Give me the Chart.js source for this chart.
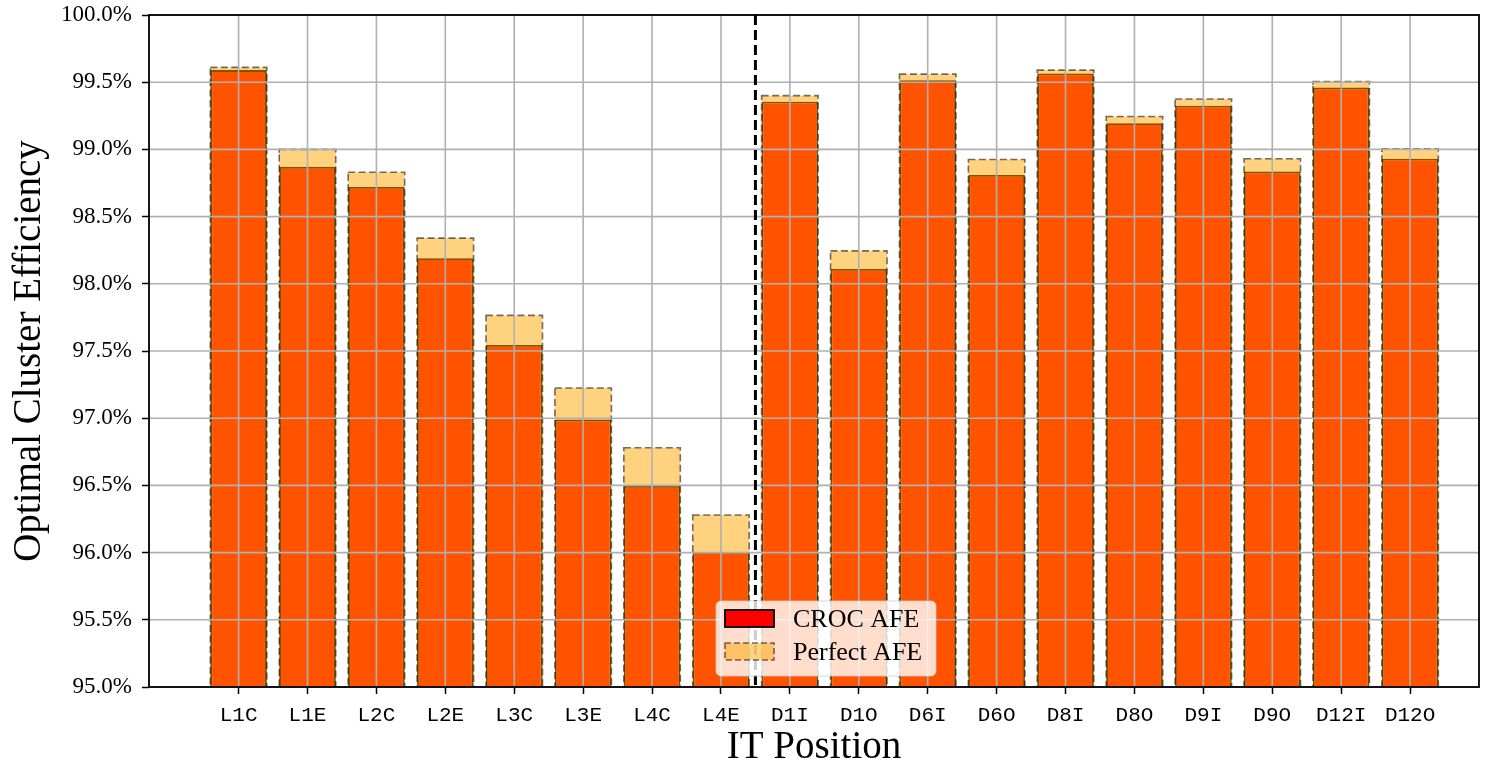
<!DOCTYPE html>
<html>
<head>
<meta charset="utf-8">
<script src="https://cdn.jsdelivr.net/npm/chart.js@4"></script>
<style>
  html, body { margin: 0; padding: 0; background: #ffffff; }
  #wrap { width: 1489px; height: 764px; }
</style>
</head>
<body>
<div id="wrap"><canvas id="afeChart" width="1489" height="764"></canvas></div>
<script>
// Posições IT e eficiências (em %)
const positions = ['L1C', 'L1E', 'L2C', 'L2E', 'L3C', 'L3E', 'L4C', 'L4E',
    'D1I', 'D1O', 'D6I', 'D6O', 'D8I', 'D8O', 'D9I', 'D9O', 'D12I', 'D12O'];
const crocAfe = [99.59, 98.87, 98.72, 98.19, 97.545, 96.99, 96.495, 96.005,
    99.355, 98.11, 99.515, 98.81, 99.565, 99.195, 99.325, 98.835, 99.46, 98.93];
const perfectAfe = [99.61, 99.00, 98.83, 98.34, 97.765, 97.225, 96.78, 96.28,
    99.40, 98.245, 99.56, 98.925, 99.59, 99.245, 99.375, 98.93, 99.505, 99.005];
const yTicks = [95.0, 95.5, 96.0, 96.5, 97.0, 97.5, 98.0, 98.5, 99.0, 99.5, 100.0];
const separatorAt = 7.5;

const colors = {
    croc: '#ff0000',
    perfect: 'rgba(255, 165, 0, 0.5)',
    perfectEdge: 'rgba(0, 0, 0, 0.55)',
    grid: '#b0b0b0'
};

const serif = "'Liberation Serif', 'DejaVu Serif', serif";
const mono = "'Liberation Mono', 'DejaVu Sans Mono', monospace";

// Contorno tracejado das barras "Perfect AFE"
const dashedOutline = {
    id: 'dashedOutline',
    afterDatasetDraw(chart, args) {
        if (args.index !== 1) return;
        const ctx = chart.ctx;
        ctx.save();
        ctx.beginPath();
        ctx.rect(chart.chartArea.left, chart.chartArea.top, chart.chartArea.width, chart.chartArea.height);
        ctx.clip();
        ctx.strokeStyle = colors.perfectEdge;
        ctx.lineWidth = 1.6;
        ctx.setLineDash([7, 3.5]);
        args.meta.data.forEach(bar => {
            const p = bar.getProps(['x', 'y', 'base', 'width'], true);
            ctx.strokeRect(p.x - p.width / 2, p.y, p.width, p.base - p.y);
        });
        ctx.restore();
    }
};

// Grade por cima das barras, linha separadora, eixos e legenda
const overlay = {
    id: 'overlay',
    afterDatasetsDraw(chart) {
        const ctx = chart.ctx;
        const ca = chart.chartArea;
        const xs = chart.scales.x;
        const ys = chart.scales.y;
        ctx.save();

        // grade
        ctx.strokeStyle = colors.grid;
        ctx.lineWidth = 1.6;
        yTicks.forEach(v => {
            const y = ys.getPixelForValue(v);
            ctx.beginPath();
            ctx.moveTo(ca.left, y);
            ctx.lineTo(ca.right, y);
            ctx.stroke();
        });
        positions.forEach((_, i) => {
            const x = xs.getPixelForValue(i);
            ctx.beginPath();
            ctx.moveTo(x, ca.top);
            ctx.lineTo(x, ca.bottom);
            ctx.stroke();
        });

        // separador L / D
        const sx = xs.getPixelForValue(separatorAt);
        ctx.strokeStyle = '#000000';
        ctx.lineWidth = 3;
        ctx.setLineDash([10, 5]);
        ctx.beginPath();
        ctx.moveTo(sx, ca.top);
        ctx.lineTo(sx, ca.bottom);
        ctx.stroke();
        ctx.setLineDash([]);

        // moldura
        ctx.lineWidth = 1.8;
        ctx.strokeRect(ca.left, ca.top, ca.width, ca.height);

        // legenda
        const lx = ca.left + 567;
        const ly = ca.bottom - 86;
        const lw = 220, lh = 75;
        ctx.beginPath();
        ctx.roundRect(lx, ly, lw, lh, 5);
        ctx.fillStyle = 'rgba(255, 255, 255, 0.8)';
        ctx.fill();
        ctx.strokeStyle = 'rgba(204, 204, 204, 0.8)';
        ctx.lineWidth = 1;
        ctx.stroke();

        ctx.fillStyle = colors.croc;
        ctx.fillRect(lx + 9, ly + 9, 49, 17);
        ctx.strokeStyle = '#000000';
        ctx.lineWidth = 1.8;
        ctx.strokeRect(lx + 9, ly + 9, 49, 17);

        ctx.fillStyle = colors.perfect;
        ctx.fillRect(lx + 9, ly + 42, 49, 17);
        ctx.strokeStyle = colors.perfectEdge;
        ctx.lineWidth = 1.6;
        ctx.setLineDash([6, 3]);
        ctx.strokeRect(lx + 9, ly + 42, 49, 17);
        ctx.setLineDash([]);

        ctx.fillStyle = '#000000';
        ctx.font = '26px ' + serif;
        ctx.textBaseline = 'middle';
        ctx.textAlign = 'left';
        ctx.fillText(chart.data.datasets[0].label, lx + 77, ly + 19);
        ctx.fillText(chart.data.datasets[1].label, lx + 77, ly + 52);

        ctx.restore();
    }
};

new Chart(document.getElementById('afeChart'), {
    type: 'bar',
    data: {
        datasets: [{
            label: 'CROC AFE',
            data: crocAfe.map((v, i) => ({ x: i, y: v })),
            backgroundColor: colors.croc,
            borderColor: '#000000',
            borderWidth: 1.8,
            order: 2
        }, {
            label: 'Perfect AFE',
            data: perfectAfe.map((v, i) => ({ x: i, y: v })),
            backgroundColor: colors.perfect,
            borderWidth: 0,
            order: 1
        }]
    },
    options: {
        responsive: false,
        animation: false,
        devicePixelRatio: 1,
        grouped: false,
        barPercentage: 0.82,
        categoryPercentage: 1.0,
        layout: { padding: { top: 15, right: 10, left: 0, bottom: 0 } },
        plugins: {
            legend: { display: false },
            tooltip: { enabled: false }
        },
        scales: {
            x: {
                type: 'linear',
                min: -1.3,
                max: 18,
                offset: false,
                afterBuildTicks: (scale) => {
                    scale.ticks = positions.map((_, i) => ({ value: i }));
                },
                afterFit: (scale) => {
                    scale.height = 77;
                    scale.paddingLeft = 0;
                    scale.paddingRight = 0;
                },
                ticks: {
                    autoSkip: false,
                    maxRotation: 0,
                    padding: 9,
                    color: '#000000',
                    font: { family: mono, size: 21 },
                    callback: (v) => positions[v]
                },
                grid: {
                    offset: false,
                    drawOnChartArea: false,
                    tickLength: 7,
                    tickColor: '#000000',
                    tickWidth: 1.5
                },
                border: { display: false },
                title: {
                    display: true,
                    text: 'IT Position',
                    color: '#000000',
                    font: { family: serif, size: 39, lineHeight: 0.82 },
                    padding: { top: 0, bottom: 0 }
                }
            },
            y: {
                min: 95,
                max: 100,
                afterBuildTicks: (scale) => {
                    scale.ticks = yTicks.map(v => ({ value: v }));
                },
                afterFit: (scale) => {
                    scale.width = 149;
                    scale.paddingTop = 0;
                    scale.paddingBottom = 0;
                },
                ticks: {
                    padding: 10,
                    color: '#000000',
                    font: { family: serif, size: 23 },
                    callback: (v) => v.toFixed(1) + '%'
                },
                grid: {
                    drawOnChartArea: false,
                    tickLength: 7,
                    tickColor: '#000000',
                    tickWidth: 1.5
                },
                border: { display: false },
                title: {
                    display: true,
                    text: 'Optimal Cluster Efficiency',
                    color: '#000000',
                    font: { family: serif, size: 39, lineHeight: 1 },
                    padding: { top: 10, bottom: 0 }
                }
            }
        }
    },
    plugins: [dashedOutline, overlay]
});
</script>
</body>
</html>
